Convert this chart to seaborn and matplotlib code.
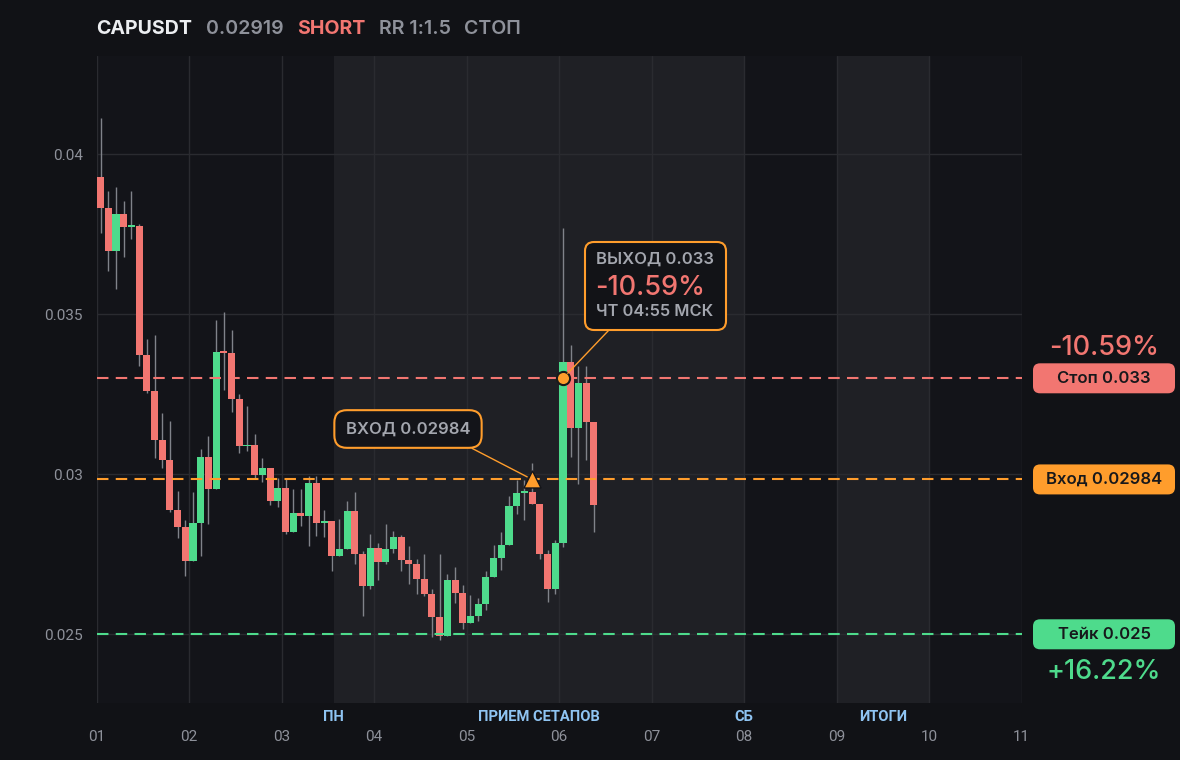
import seaborn as sns
import matplotlib.pyplot as plt
from matplotlib.patches import FancyBboxPatch
from matplotlib.transforms import IdentityTransform

# 2h candles starting at day 01 00:00
opens = [0.03928, 0.03832, 0.03698, 0.03812, 0.03772, 0.03776, 0.03373, 0.03261, 0.03108, 0.03046,
         0.02889, 0.02836, 0.02729, 0.02849, 0.03053, 0.02954, 0.03383, 0.03379, 0.03236, 0.03087,
         0.03091, 0.02998, 0.03021, 0.02917, 0.02956, 0.02820, 0.02878, 0.02869, 0.02972, 0.02847,
         0.02853, 0.02744, 0.02766, 0.02884, 0.02751, 0.02650, 0.02769, 0.02725, 0.02768, 0.02803,
         0.02732, 0.02720, 0.02673, 0.02626, 0.02554, 0.02494, 0.02669, 0.02629, 0.02534, 0.02556,
         0.02596, 0.02680, 0.02740, 0.02780, 0.02902, 0.02943, 0.02946, 0.02907, 0.02751, 0.02642,
         0.02786, 0.03350, 0.03145, 0.03284, 0.03164]
highs = [0.04113, 0.03884, 0.03897, 0.03853, 0.03884, 0.03781, 0.03422, 0.03434, 0.03191, 0.03166,
         0.02947, 0.02857, 0.02944, 0.03078, 0.03119, 0.03481, 0.03506, 0.03450, 0.03250, 0.03213,
         0.03125, 0.03050, 0.03021, 0.02988, 0.02988, 0.02953, 0.02953, 0.02994, 0.02994, 0.02888,
         0.02853, 0.02859, 0.02916, 0.02944, 0.02760, 0.02813, 0.02784, 0.02844, 0.02822, 0.02810,
         0.02775, 0.02734, 0.02750, 0.02641, 0.02750, 0.02688, 0.02710, 0.02653, 0.02622, 0.02613,
         0.02697, 0.02778, 0.02819, 0.02931, 0.02981, 0.02981, 0.03034, 0.02907, 0.02763, 0.02794,
         0.03769, 0.03403, 0.03338, 0.03338, 0.03164]
lows = [0.03753, 0.03635, 0.03579, 0.03680, 0.03735, 0.03337, 0.03254, 0.03051, 0.03020, 0.02882,
        0.02801, 0.02682, 0.02729, 0.02745, 0.02845, 0.02954, 0.03263, 0.03195, 0.03067, 0.03073,
        0.02989, 0.02976, 0.02904, 0.02898, 0.02813, 0.02820, 0.02838, 0.02775, 0.02806, 0.02803,
        0.02697, 0.02744, 0.02766, 0.02719, 0.02556, 0.02641, 0.02669, 0.02719, 0.02753, 0.02697,
        0.02656, 0.02625, 0.02619, 0.02491, 0.02481, 0.02494, 0.02597, 0.02516, 0.02534, 0.02541,
        0.02575, 0.02680, 0.02700, 0.02780, 0.02875, 0.02856, 0.02906, 0.02734, 0.02600, 0.02625,
        0.02772, 0.03053, 0.02969, 0.03044, 0.02819]
closes = [0.03832, 0.03698, 0.03812, 0.03772, 0.03776, 0.03373, 0.03261, 0.03108, 0.03046, 0.02889,
          0.02836, 0.02729, 0.02849, 0.03053, 0.02954, 0.03383, 0.03379, 0.03236, 0.03087, 0.03091,
          0.02998, 0.03021, 0.02917, 0.02956, 0.02820, 0.02878, 0.02869, 0.02972, 0.02847, 0.02853,
          0.02744, 0.02766, 0.02884, 0.02751, 0.02650, 0.02769, 0.02725, 0.02768, 0.02803, 0.02732,
          0.02720, 0.02673, 0.02626, 0.02554, 0.02494, 0.02669, 0.02629, 0.02534, 0.02556, 0.02596,
          0.02680, 0.02740, 0.02780, 0.02902, 0.02943, 0.02946, 0.02907, 0.02751, 0.02642, 0.02786,
          0.03350, 0.03145, 0.03284, 0.03164, 0.02904]

day_ticks = [1, 2, 3, 4, 5, 6, 7, 8, 9, 10, 11]
day_labels = ['01', '02', '03', '04', '05', '06', '07', '08', '09', '10', '11']
price_ticks = [0.025, 0.03, 0.035, 0.04]
price_labels = ['0.025', '0.03', '0.035', '0.04']

# session spans (in days) and their captions
sessions = [(3.565, 8.0), (9.0, 10.0)]
session_labels = ['ПН', 'ПРИЕМ СЕТАПОВ', 'СБ', 'ИТОГИ']
session_label_days = [3.565, 5.78, 8.0, 9.5]

symbol = 'CAPUSDT'
last_price = '0.02919'
side = 'SHORT'
rr = 'RR 1:1.5'
outcome = 'СТОП'
entry_price = 0.02984
stop_price = 0.033
take_price = 0.025
entry_idx = 56
exit_idx = 60
exit_time = 'ЧТ 04:55 МСК'
stop_pct = '-10.59%'
take_pct = '+16.22%'

FIG_BG = '#111216'
BG = '#131419'
SHADE = '#1f2025'
GRID = '#2a2b30'
WICK = '#80838a'
RED = '#f27671'
GREEN = '#4edb8c'
ORANGE = '#ff9d2c'
GRAY = '#8e919a'
WHITE = '#eceef1'
BLUE = '#8fc4f2'

sns.set_theme(style='dark', rc={'axes.facecolor': BG, 'figure.facecolor': FIG_BG})
plt.rcParams['font.family'] = ['Inter', 'DejaVu Sans']

fig = plt.figure(figsize=(11.8, 7.6), dpi=100)
ax = fig.add_axes([0.08195, 0.075, 0.78373, 0.8513])

slot = 1 / 12
t = [1 + (i + 0.5) * slot for i in range(len(opens))]

for a, b in sessions:
    ax.axvspan(a, b, color=SHADE, lw=0, zorder=0)
for d in day_ticks:
    ax.axvline(d, color=GRID, lw=1, zorder=0.5)
for p in price_ticks:
    ax.axhline(p, color=GRID, lw=1, zorder=0.5)

# candles
ax.vlines(t, lows, highs, color=WICK, lw=1, zorder=2)
bottoms = [min(o, c) for o, c in zip(opens, closes)]
heights = [max(abs(c - o), 0.00006) for o, c in zip(opens, closes)]
colors = [GREEN if c >= o else RED for o, c in zip(opens, closes)]
ax.bar(t, heights, bottom=bottoms, width=0.92 * slot, color=colors, lw=0, zorder=3)

# trade levels
dash = (0, (5.5, 3.5))
ax.axhline(stop_price, color=RED, lw=1.5, ls=dash, zorder=4)
ax.axhline(entry_price, color=ORANGE, lw=1.5, ls=dash, zorder=4)
ax.axhline(take_price, color=GREEN, lw=1.5, ls=dash, zorder=4)

ax.set_xlim(1, 11)
ax.set_ylim(0.022853, 0.043072)
for s in ax.spines.values():
    s.set_visible(False)
ax.set_xticks(day_ticks, day_labels)
ax.set_yticks(price_ticks, price_labels)
ax.tick_params(axis='x', length=0, pad=19.5, labelsize=11, labelcolor=GRAY)
ax.tick_params(axis='y', length=0, pad=10, labelsize=11, labelcolor=GRAY)
for lab in ax.get_xticklabels() + ax.get_yticklabels():
    lab.set_family(['Roboto', 'DejaVu Sans'])

for lab, d in zip(session_labels, session_label_days):
    ax.annotate(lab, xy=(d, 0), xycoords=('data', 'axes fraction'), xytext=(0, -14),
                textcoords='offset pixels', ha='center', va='center', color=BLUE,
                fontsize=10.6, fontweight='semibold', family=['Roboto', 'DejaVu Sans'],
                annotation_clip=False)

# entry / exit markers
t_entry = t[entry_idx]
t_exit = t[exit_idx]
sns.scatterplot(x=[t_entry], y=[entry_price], marker='^', s=150, color=ORANGE,
                edgecolor=BG, linewidth=1, ax=ax, zorder=6, legend=False)
sns.scatterplot(x=[t_exit], y=[stop_price], marker='o', s=90, color=ORANGE,
                edgecolor='#1a1a1a', linewidth=1.5, ax=ax, zorder=6, legend=False)

H = 760
ax.annotate('ВХОД ' + f'{entry_price:.5f}'.rstrip('0'), xy=(t_entry, entry_price),
            xytext=(408, H - 429), textcoords='figure pixels', ha='center', va='center',
            color='#a3a6ae', fontsize=12, fontweight='semibold',
            bbox=dict(boxstyle='round,pad=0.68,rounding_size=0.75', fc=BG, ec=ORANGE, lw=1.5),
            arrowprops=dict(arrowstyle='-', color=ORANGE, lw=1, relpos=(0.83, 0),
                            shrinkA=0, shrinkB=4), zorder=7)

# exit card
fig.add_artist(FancyBboxPatch((585, H - 330), 141, 88, boxstyle='round,pad=0,rounding_size=9',
                              fc='#121317', ec=ORANGE, lw=1.5, transform=IdentityTransform(),
                              zorder=7))
ax.annotate('', xy=(t_exit, stop_price), xytext=(609, H - 330), textcoords='figure pixels',
            arrowprops=dict(arrowstyle='-', color=ORANGE, lw=1, shrinkA=0, shrinkB=5), zorder=6)
fig.text(596 / 1180, 1 - 259 / H, 'ВЫХОД ' + f'{stop_price:g}', color='#a3a6ae', fontsize=12,
         fontweight='semibold', va='center', zorder=8)
fig.text(595 / 1180, 1 - 288 / H, stop_pct, color=RED, fontsize=19.5, fontweight='medium',
         va='center', zorder=8)
fig.text(596 / 1180, 1 - 312 / H, exit_time, color='#a3a6ae', fontsize=11.8,
         fontweight='semibold', va='center', zorder=8)

# right side tags
def side_tag(price, text, fc):
    y = ax.transData.transform((1, price))[1]
    fig.add_artist(FancyBboxPatch((1033, y - 15), 142, 30, boxstyle='round,pad=0,rounding_size=7',
                                  fc=fc, ec='none', transform=IdentityTransform()))
    fig.text(1104 / 1180, y / H, text, color='#17181b', fontsize=12, fontweight='semibold',
             ha='center', va='center')
    return y

ys = side_tag(stop_price, f'Стоп {stop_price:g}', RED)
side_tag(entry_price, f'Вход {entry_price:g}', ORANGE)
yt = side_tag(take_price, f'Тейк {take_price:g}', GREEN)
fig.text(1104 / 1180, (ys + 30) / H, stop_pct, color=RED, fontsize=19.5, fontweight='medium',
         ha='center', va='center')
fig.text(1104 / 1180, (yt - 38) / H, take_pct, color=GREEN, fontsize=19.5, fontweight='medium',
         ha='center', va='center')

# header
renderer = fig.canvas.get_renderer()
x = 96.2
for txt, col, w in [(symbol, WHITE, 'bold'), (last_price, GRAY, 'semibold'), (side, RED, 'bold'),
                    (rr, GRAY, 'semibold'), (outcome, GRAY, 'semibold')]:
    tt = fig.text(x / 1180, 1 - 29 / H, txt, color=col, fontsize=14.1, fontweight=w, va='center')
    x = tt.get_window_extent(renderer).x1 + 13.5

fig.savefig('out.png', facecolor=FIG_BG)
